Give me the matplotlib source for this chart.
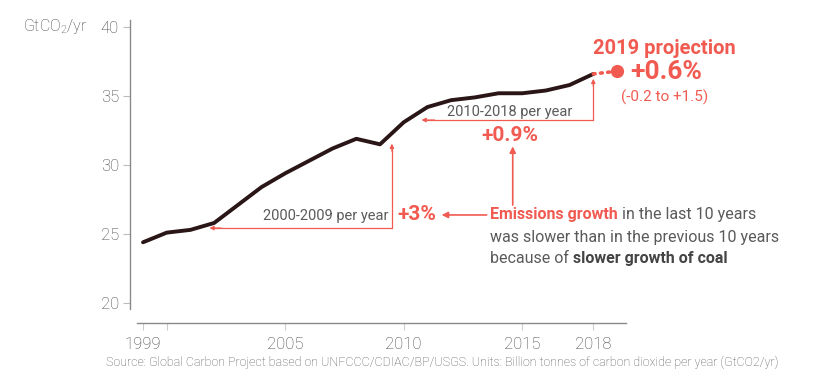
import numpy as np
import matplotlib
matplotlib.use("Agg")
import matplotlib.pyplot as plt

# global fossil CO2 emissions, GtCO2/yr
years = [1999, 2000, 2001, 2002, 2003, 2004, 2005, 2006, 2007, 2008,
         2009, 2010, 2011, 2012, 2013, 2014, 2015, 2016, 2017, 2018]
emissions = [24.4, 25.1, 25.3, 25.8, 27.1, 28.4, 29.4, 30.3, 31.2, 31.9,
             31.5, 33.1, 34.2, 34.7, 34.9, 35.2, 35.2, 35.4, 35.8, 36.6]
proj_year = 2019
proj_value = 36.8

y_ticks = [20, 25, 30, 35, 40]
x_major = [1999, 2005, 2010, 2015, 2018]
x_minor = [2000]

RED = "#f15a50"
GREY = "#5a5a5a"
LINE = "#2a1616"
AXC = "#8a8a8a"

plt.rcParams["font.family"] = ["Roboto", "DejaVu Sans"]
plt.rcParams["mathtext.fontset"] = "custom"
plt.rcParams["mathtext.rm"] = "Roboto:light"
plt.rcParams["mathtext.it"] = "Roboto:light"

fig = plt.figure(figsize=(8.36, 3.88), dpi=100)
W, H = 836, 388
ax = fig.add_axes([130 / W, (H - 323) / H, 510 / W, 303 / H])
ax.set_xlim(1998.45, 2019.97)
ax.set_ylim(18.55, 40.51)

ax.plot(years, emissions, color=LINE, lw=2.8, solid_capstyle="round", zorder=3)
ax.plot([years[-1], proj_year], [emissions[-1], proj_value], color=RED, lw=2.6,
        ls=(0, (0.5, 1.5)), dash_capstyle="round", zorder=3)
ax.plot([proj_year], [proj_value], "o", color=RED, ms=8.5, zorder=4)

# axes styling
for s in ["top", "right"]:
    ax.spines[s].set_visible(False)
ax.spines["left"].set_bounds(19.6, 40.5)
ax.spines["bottom"].set_bounds(1998.75, 2019.4)
for s in ["left", "bottom"]:
    ax.spines[s].set_color(AXC)
    ax.spines[s].set_linewidth(1.0)
ax.set_yticks(y_ticks)
ax.set_xticks(x_major)
ax.set_xticks(x_minor, minor=True)
ax.tick_params(axis="y", length=5, width=0.8, color="#bbbbbb", labelsize=12,
               labelcolor="#404040", pad=3)
ax.tick_params(axis="x", which="both", length=5, width=0.8, color="#cccccc",
               labelsize=12, labelcolor="#404040", pad=5)
for lab in ax.get_xticklabels() + ax.get_yticklabels():
    lab.set_fontweight("light")

fig.text(88 / W, (H - 27) / H, r"GtCO$_\mathrm{2}$/yr", ha="right", va="center",
         fontsize=11.5, color="#404040", fontweight="light")

# brackets
kw = dict(color=RED, lw=0.9, clip_on=False)
ax.plot([2009.5, 2009.5, 2001.95], [31.35, 25.43, 25.43], **kw)
ax.plot([2018.0, 2018.0, 2010.9], [36.05, 33.26, 33.26], **kw)
ap = dict(arrowstyle="-|>", color=RED, lw=0.9, mutation_scale=6,
          shrinkA=0, shrinkB=0)
ax.annotate("", xy=(2009.5, 31.55), xytext=(2009.5, 31.0), arrowprops=ap)
ax.annotate("", xy=(2001.8, 25.43), xytext=(2002.3, 25.43), arrowprops=ap)
ax.annotate("", xy=(2018.0, 36.25), xytext=(2018.0, 35.7), arrowprops=ap)
ax.annotate("", xy=(2010.75, 33.26), xytext=(2011.3, 33.26), arrowprops=ap)
ap2 = dict(arrowstyle="-|>", color=RED, lw=1.2, mutation_scale=9,
           shrinkA=0, shrinkB=0)
ax.annotate("", xy=(2014.6, 31.35), xytext=(2014.6, 27.1), arrowprops=ap2)
ax.annotate("", xy=(2011.6, 26.38), xytext=(2013.5, 26.38), arrowprops=ap2)

ax.text(2009.34, 26.3, "2000-2009 per year", ha="right", va="center",
        fontsize=10.5, color=GREY)
ax.text(2009.72, 26.38, "+3%", ha="left", va="center", fontsize=15,
        fontweight="bold", color=RED)
ax.text(2014.49, 33.84, "2010-2018 per year", ha="center", va="center",
        fontsize=10.5, color=GREY)
ax.text(2014.49, 32.17, "+0.9%", ha="center", va="center", fontsize=15,
        fontweight="bold", color=RED)
ax.text(2018.0, 38.48, "2019 projection", ha="left", va="center", fontsize=14.5,
        fontweight="bold", color=RED, clip_on=False)
ax.text(2019.55, 36.74, "+0.6%", ha="left", va="center", fontsize=19,
        fontweight="bold", color=RED, clip_on=False)
ax.text(2019.17, 34.93, "(-0.2 to +1.5)", ha="left", va="center", fontsize=11,
        color=RED, clip_on=False)


def rich_line(x, y, parts, size=11.5):
    # place text pieces one after another
    fig.canvas.draw()
    r = fig.canvas.get_renderer()
    xp, yp = ax.transData.transform((x, y))
    for txt, col, wt in parts:
        t = fig.text(xp / fig.bbox.width, yp / fig.bbox.height, txt,
                     ha="left", va="center", fontsize=size, color=col,
                     fontweight=wt)
        xp += t.get_window_extent(r).width


rich_line(2013.64, 26.38, [("Emissions growth", RED, "bold"),
                           (" in the last 10 years", GREY, "normal")])
rich_line(2013.64, 24.78, [("was slower than in the previous 10 years", GREY, "normal")])
rich_line(2013.64, 23.26, [("because of ", GREY, "normal"),
                           ("slower growth of coal", "#444444", "bold")])

fig.text(442 / W, (H - 362) / H,
         "Source: Global Carbon Project based on UNFCCC/CDIAC/BP/USGS. Units: "
         "Billion tonnes of carbon dioxide per year (GtCO2/yr)",
         ha="center", va="center", fontsize=9, color="#555555",
         fontweight="light")

fig.savefig("out.png", dpi=100)
